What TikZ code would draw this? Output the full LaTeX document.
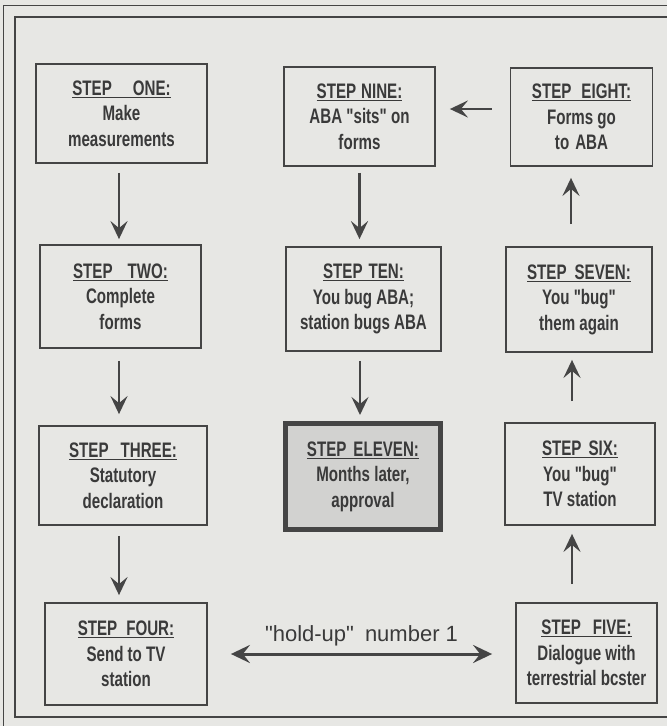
\documentclass[tikz,border=0pt]{standalone}
\usepackage{fontspec}
\setmainfont{Liberation Sans}
\newfontfamily\cond[FakeStretch=0.72,UprightFont=*,BoldFont=* Bold]{Liberation Sans}
\newfontfamily\labelfont{Liberation Sans}
\usetikzlibrary{arrows.meta}
\definecolor{paper}{HTML}{E7E7E4}
\definecolor{ink}{HTML}{454545}
\definecolor{txt}{HTML}{3A3A3A}
\definecolor{boxfill}{HTML}{D2D2D0}
\newcommand\steptitle[2]{\underline{STEP\hspace{#1pt}#2}}
\begin{document}
\begin{tikzpicture}[x=1pt,y=-1pt,
  stepbox/.style={draw=ink, line width=1.8pt, rectangle, inner sep=0pt, align=center,
    text=txt, font=\cond\bfseries\fontsize{21}{25.5}\selectfont},
  keybox/.style={stepbox, line width=5pt, fill=boxfill},
  arr/.style={draw=ink, line width=2.8pt, -{Stealth[length=18pt,width=17pt,inset=7pt]}},
  dblarr/.style={draw=ink, line width=3pt, {Stealth[length=19pt,width=18pt,inset=7pt]}-{Stealth[length=19pt,width=18pt,inset=7pt]}},
  frame/.style={draw=ink, line width=1.3pt}]
\useasboundingbox (0,0) rectangle (667,726);
\fill[paper] (0,0) rectangle (667,726);
% scanned page edges and frame
\draw[frame, line width=0.8pt] (3,726) -- (3,5) -- (667,5);
\draw[frame] (667,17) -- (15,17) -- (15,717) -- (667,717);
% boxes
\node[stepbox, minimum width=171, minimum height=99] (one) at (121.5,113.5)
  {\steptitle{21}{ONE:}\\Make\\measurements};
\node[stepbox, minimum width=151, minimum height=99] (nine) at (359.5,116.5)
  {\steptitle{5}{NINE:}\\ABA "sits" on\\forms};
\node[stepbox, minimum width=142, minimum height=98] (eight) at (581.5,117)
  {\steptitle{10}{EIGHT:}\\Forms go\\to\hspace{6pt}ABA};
\node[stepbox, minimum width=161, minimum height=103] (two) at (120.5,296.5)
  {\steptitle{15}{TWO:}\\Complete\\forms};
\node[stepbox, minimum width=155, minimum height=104] (ten) at (363.5,299)
  {\steptitle{6}{TEN:}\\You bug ABA;\\station bugs ABA};
\node[stepbox, minimum width=146, minimum height=105] (seven) at (579,299.5)
  {\steptitle{8}{SEVEN:}\\You "bug"\\them again};
\node[stepbox, minimum width=168, minimum height=99] (three) at (123,475.5)
  {\steptitle{12}{THREE:}\\Statutory\\declaration};
\node[keybox, minimum width=155, minimum height=106] (eleven) at (363,476.5)
  {\steptitle{7}{ELEVEN:}\\Months later,\\approval};
\node[stepbox, minimum width=150, minimum height=102] (six) at (580,474)
  {\steptitle{7}{SIX:}\\You "bug"\\TV station};
\node[stepbox, minimum width=162, minimum height=102] (four) at (126,654)
  {\steptitle{9}{FOUR:}\\Send to TV\\station};
\node[stepbox, minimum width=141, minimum height=100] (five) at (586.5,653)
  {\steptitle{12}{FIVE:}\\Dialogue with\\terrestrial bcster};
% downward arrows
\draw[arr, shorten <=9pt, shorten >=5pt] ([xshift=-2.5pt]one.south) -- ([xshift=-1.5pt]two.north);
\draw[arr, shorten <=12pt, shorten >=11pt] ([xshift=-1.5pt]two.south) -- ([xshift=-4pt]three.north);
\draw[arr, shorten <=10pt, shorten >=7pt] ([xshift=-4pt]three.south) -- ([xshift=-7pt]four.north);
\draw[arr, shorten <=6pt, shorten >=7pt] (nine.south) -- ([xshift=-4pt]ten.north);
\draw[arr, shorten <=9pt, shorten >=6pt] ([xshift=-3.5pt]ten.south) -- ([xshift=-3pt]eleven.north);
% upward arrows
\draw[arr, shorten <=18pt, shorten >=8pt] ([xshift=-14.5pt]five.north) -- ([xshift=-8pt]six.south);
\draw[arr, shorten <=21pt, shorten >=7pt] ([xshift=-8pt]six.north) -- ([xshift=-7pt]seven.south);
\draw[arr, shorten <=22pt, shorten >=11pt] ([xshift=-8pt]seven.north) -- ([xshift=-10.5pt]eight.south);
% left arrow
\draw[arr, shorten <=18pt, shorten >=14pt] ([yshift=8pt]eight.west) -- ([yshift=7.5pt]nine.east);
% hold-up
\draw[dblarr, shorten <=23pt, shorten >=23pt] (four.east) -- node[above=3pt, text=txt, font=\labelfont\fontsize{22}{25}\selectfont] (hold) {"hold-up"\hspace{11pt}number 1} ([yshift=-1pt]five.west);
\end{tikzpicture}
\end{document}
